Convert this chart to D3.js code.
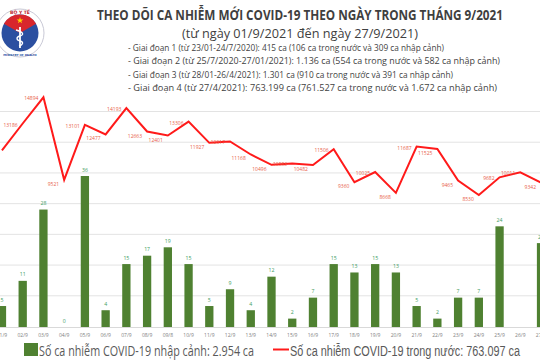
<!DOCTYPE html>
<html><head><meta charset="utf-8">
<script src="https://cdn.jsdelivr.net/npm/d3@7"></script>
<style>
html,body{margin:0;padding:0;background:#fff;}
svg{display:block;}
</style></head>
<body>
<svg id="c" width="540" height="360"></svg>
<script>
// ---------- DATA ----------
const days = ["01/9","02/9","03/9","04/9","05/9","06/9","07/9","08/9","09/8","10/9","11/9","12/9","13/9","14/9","15/9","16/9","17/9","18/9","19/9","20/9","21/9","22/9","23/9","24/9","25/9","26/9","27/9"];
const imported = [5,11,28,0,36,4,15,17,19,15,5,9,4,12,2,7,15,13,15,13,5,2,7,7,24,null,20];
const domestic = [11434,13186,14894,9521,13101,12477,14193,12663,12401,13306,11927,12017,11168,10496,10583,10482,11506,9360,10025,8668,11687,11525,9465,8530,9682,10011,9342];
const lineTicks = [2000,4000,6000,8000,10000,12000,14000];
const titleText = "THEO DÕI CA NHIỄM MỚI COVID-19 THEO NGÀY TRONG THÁNG 9/2021";
const subtitleText = "(từ ngày 01/9/2021 đến ngày 27/9/2021)";
const phases = [
  "- Giai đoạn 1 (từ 23/01-24/7/2020): 415 ca (106 ca trong nước và 309 ca nhập cảnh)",
  "- Giai đoạn 2 (từ 25/7/2020-27/01/2021): 1.136 ca (554 ca trong nước và 582 ca nhập cảnh)",
  "- Giai đoạn 3 (từ 28/01-26/4/2021): 1.301 ca (910 ca trong nước và 391 ca nhập cảnh)",
  "- Giai đoạn 4 (từ 27/4/2021): 763.199 ca (761.527 ca trong nước và 1.672 ca nhập cảnh)"
];
const legendBar = "Số ca nhiễm COVID-19 nhập cảnh: 2.954 ca";
const legendLine = "Số ca nhiễm COVID-19 trong nước: 763.097 ca";

// ---------- CHART ----------
const svg = d3.select("#c");
const x = d3.scaleBand().domain(days).range([-8.4, 551.4]).paddingInner(0.6).paddingOuter(0.3);
const yL = d3.scaleLinear().domain([0,14000]).range([326,111]);
const yB = d3.scaleLinear().domain([0,36]).range([327,176]);
const cx = d => x(d) + x.bandwidth()/2;

// gridlines
svg.append("g").selectAll("line").data(lineTicks).join("line")
  .attr("x1",0).attr("x2",540).attr("y1",d=>yL(d)+0.5).attr("y2",d=>yL(d)+0.5)
  .attr("stroke","#e3e3e3").attr("stroke-width",1);
svg.append("line").attr("x1",0).attr("x2",540).attr("y1",yB(0)+0.5).attr("y2",yB(0)+0.5)
  .attr("stroke","#d9d9d9");

// x axis labels
const xAxis = d3.axisBottom(x).tickSize(0).tickPadding(6);
const gx = svg.append("g").attr("transform",`translate(0,${yB(0)})`).call(xAxis);
gx.select(".domain").remove();
gx.selectAll("text").attr("font-family","Open Sans, sans-serif").attr("font-size",5).attr("fill","#808080");

// bars
const barData = days.map((d,i)=>({d, v: imported[i]})).filter(o=>o.v!==null);
svg.append("g").selectAll("rect").data(barData).join("rect")
  .attr("x",o=>x(o.d)).attr("width",x.bandwidth())
  .attr("y",o=>yB(o.v)).attr("height",o=>yB(0)-yB(o.v))
  .attr("fill","#4f8131");
svg.append("g").selectAll("text").data(barData).join("text")
  .attr("x",o=>cx(o.d)).attr("y",o=>yB(o.v)-4.5)
  .attr("text-anchor","middle").attr("font-family","Open Sans, sans-serif")
  .attr("font-size",5.2).attr("fill","#3e9e62").text(o=>o.v);

// line
const lineData = days.map((d,i)=>({d, v: domestic[i], i}));
svg.append("path").datum(lineData)
  .attr("d", d3.line().x(o=>cx(o.d)).y(o=>yL(o.v)))
  .attr("fill","none").attr("stroke","#ff1a1a").attr("stroke-width",2).attr("stroke-linejoin","miter");
svg.append("g").selectAll("text").data(lineData.slice(1)).join("text")
  .attr("x",o=>cx(o.d)-5)
  .attr("y",o=>{const desc = domestic[o.i] < domestic[o.i-1]; return yL(o.v) + (desc?6:3);})
  .attr("text-anchor","end").attr("font-family","Open Sans, sans-serif")
  .attr("font-size",5).attr("fill","#e8604a").text(o=>o.v);

// ---------- HEADER ----------
svg.append("text").attr("x",97).attr("y",20).attr("font-family","Open Sans, sans-serif")
  .attr("font-weight","bold").attr("font-size",14).attr("fill","#3f3f3f")
  .attr("textLength",406).attr("lengthAdjust","spacingAndGlyphs").text(titleText);
svg.append("text").attr("x",182).attr("y",38).attr("font-family","Open Sans, sans-serif")
  .attr("font-size",12.8).attr("fill","#3f3f3f")
  .attr("textLength",236).attr("lengthAdjust","spacingAndGlyphs").text(subtitleText);
const phaseLen = [316, 372, 325, 369];
svg.append("g").selectAll("text").data(phases).join("text")
  .attr("x",128).attr("y",(d,i)=>51+i*13.3)
  .attr("font-family","Open Sans, sans-serif").attr("font-size",9.6).attr("fill","#3f3f3f")
  .attr("textLength",(d,i)=>phaseLen[i]).attr("lengthAdjust","spacingAndGlyphs").text(d=>d);

// ---------- LOGO ----------
const logo = svg.append("g").attr("transform","translate(20,33)");
logo.append("circle").attr("r",24).attr("fill","#fff").attr("stroke","#c9c9d6").attr("stroke-width",1);
logo.append("circle").attr("r",18.5).attr("fill","#2b4fa0");
logo.append("path").attr("d",d3.arc()({innerRadius:0,outerRadius:18.5,startAngle:-1.05,endAngle:1.05})).attr("fill","#d8262c");
logo.append("path").attr("d",d3.symbol(d3.symbolStar,14)()).attr("transform","translate(0,-12.5)").attr("fill","#ffd400");
logo.append("line").attr("x1",0).attr("x2",0).attr("y1",-6).attr("y2",15).attr("stroke","#fff").attr("stroke-width",1.8);
logo.append("path").attr("d","M-4,-3 C4,-1 4,2 0,3 C-4,4 -4,7 0,8 C4,9 3,12 -1,13").attr("fill","none").attr("stroke","#fff").attr("stroke-width",1.3);
logo.append("text").attr("y",-19).attr("text-anchor","middle").attr("font-family","DejaVu Sans, sans-serif").attr("font-weight","bold").attr("font-size",4.5).attr("fill","#c0262c").text("BỘ Y TẾ");
logo.append("text").attr("y",22.5).attr("text-anchor","middle").attr("font-family","DejaVu Sans, sans-serif").attr("font-weight","bold").attr("font-size",2.8).attr("fill","#2b4fa0").text("MINISTRY OF HEALTH");

// ---------- LEGEND ----------
svg.append("rect").attr("x",24).attr("y",343).attr("width",14).attr("height",13).attr("fill","#4f8131");
svg.append("text").attr("x",39).attr("y",356).attr("font-family","Open Sans, sans-serif").attr("font-size",14)
  .attr("fill","#595959").attr("textLength",215).attr("lengthAdjust","spacingAndGlyphs").text(legendBar);
svg.append("line").attr("x1",273).attr("x2",289).attr("y1",349.5).attr("y2",349.5).attr("stroke","#ff1a1a").attr("stroke-width",2);
svg.append("text").attr("x",290).attr("y",356).attr("font-family","Liberation Sans, Arial, sans-serif").attr("font-size",14)
  .attr("fill","#595959").attr("textLength",230).attr("lengthAdjust","spacingAndGlyphs").text(legendLine);
</script>
</body></html>
